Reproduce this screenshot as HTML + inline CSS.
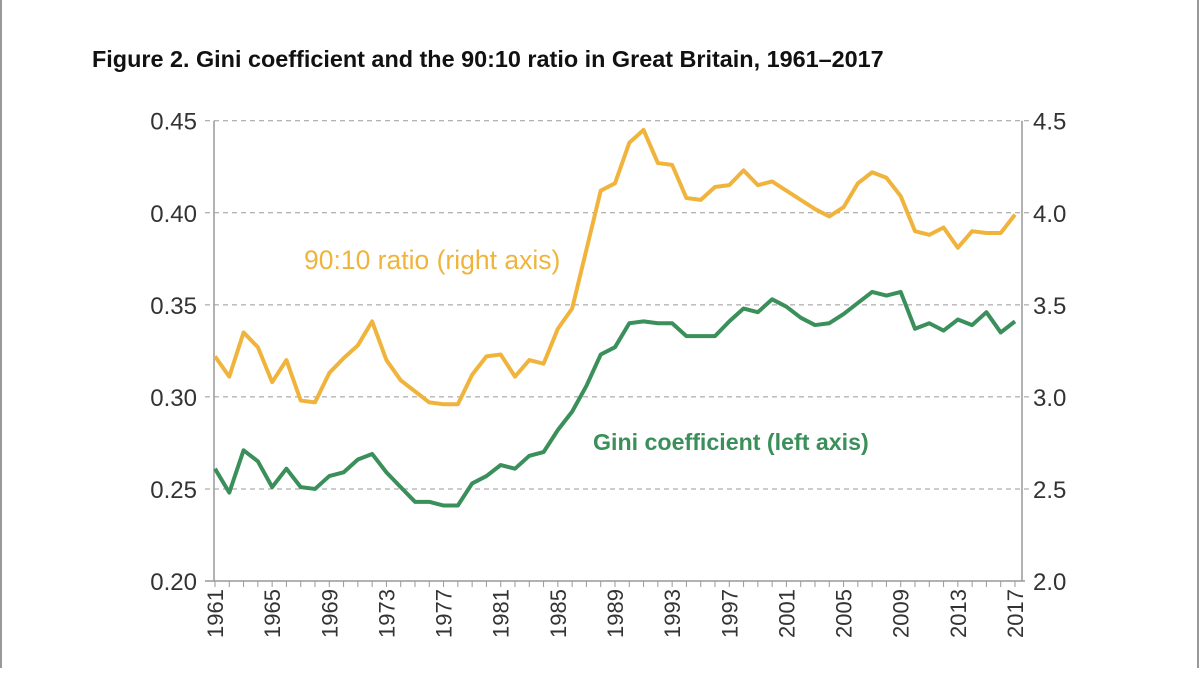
<!DOCTYPE html>
<html><head><meta charset="utf-8"><style>
body{margin:0;background:#fff;font-family:"Liberation Sans",sans-serif}
</style></head><body>
<svg width="1200" height="668" xmlns="http://www.w3.org/2000/svg" id="c" style="font-family:'Liberation Sans',sans-serif">
<line x1="1" y1="0" x2="1" y2="668" stroke="#999" stroke-width="2"/>
<line x1="1198" y1="0" x2="1198" y2="668" stroke="#999" stroke-width="2"/>
<text x="92" y="67" font-size="23.4" font-weight="bold" fill="#111">Figure 2. Gini coefficient and the 90:10 ratio in Great Britain, 1961–2017</text>
<g id="grid"></g><g id="axes"></g><g id="series"></g>
<text x="304" y="269" font-size="26.5" fill="#f0b43c">90:10 ratio (right axis)</text>
<text x="593" y="450" font-size="23.2" font-weight="bold" fill="#3a8f5a">Gini coefficient (left axis)</text>
</svg>
<script>
const years=[];for(let y=1961;y<=2017;y++)years.push(y);
const gini=[0.261,0.248,0.271,0.265,0.251,0.261,0.251,0.250,0.257,0.259,0.266,0.269,0.259,0.251,0.243,0.243,0.241,0.241,0.253,0.257,0.263,0.261,0.268,0.270,0.282,0.292,0.306,0.323,0.327,0.340,0.341,0.340,0.340,0.333,0.333,0.333,0.341,0.348,0.346,0.353,0.349,0.343,0.339,0.340,0.345,0.351,0.357,0.355,0.357,0.337,0.340,0.336,0.342,0.339,0.346,0.335,0.341];
const ratio=[3.22,3.11,3.35,3.27,3.08,3.20,2.98,2.97,3.13,3.21,3.28,3.41,3.20,3.09,3.03,2.97,2.96,2.96,3.12,3.22,3.23,3.11,3.20,3.18,3.37,3.48,3.80,4.12,4.16,4.38,4.45,4.27,4.26,4.08,4.07,4.14,4.15,4.23,4.15,4.17,4.12,4.07,4.02,3.98,4.03,4.16,4.22,4.19,4.09,3.90,3.88,3.92,3.81,3.90,3.89,3.89,3.99];
const leftTicks=["0.20","0.25","0.30","0.35","0.40","0.45"];
const rightTicks=["2.0","2.5","3.0","3.5","4.0","4.5"];
const yearLabels=[1961,1965,1969,1973,1977,1981,1985,1989,1993,1997,2001,2005,2009,2013,2017];
const X0=215,X1=1015,Y0=581,Y1=120.7;
const xs=y=>X0+(y-1961)*(X1-X0)/56;
const yl=v=>Y0-(v-0.20)*(Y0-Y1)/0.25;
const yr=v=>Y0-(v-2.0)*(Y0-Y1)/2.5;
const NS="http://www.w3.org/2000/svg";
function mk(p,t,a){const e=document.createElementNS(NS,t);for(const k in a)e.setAttribute(k,a[k]);p.appendChild(e);return e;}
const g=document.getElementById('grid'),ax=document.getElementById('axes'),s=document.getElementById('series');
leftTicks.forEach((t,i)=>{const y=yl(parseFloat(t));
 if(i>0){const l=mk(g,'line',{x1:205,x2:1030,y1:y,y2:y,stroke:'#999','stroke-dasharray':'5,4','stroke-width':1});
 
 }
 const a=mk(ax,'text',{x:197,y:y+9,'font-size':24,fill:'#333','text-anchor':'end'});a.textContent=t;
 
 
 const b=mk(ax,'text',{x:1033,y:yr(parseFloat(rightTicks[i]))+9,'font-size':24,fill:'#333'});b.textContent=rightTicks[i];
 
 
});
[[X0-1,Y1,X0-1,Y0],[1022,Y1,1022,Y0],[205,Y0,1025,Y0]].forEach(c=>{const l=mk(ax,'line',{x1:c[0],y1:c[1],x2:c[2],y2:c[3],stroke:'#999','stroke-width':1.5});
 
 });
years.forEach(y=>{const l=mk(ax,'line',{x1:xs(y),x2:xs(y),y1:Y0,y2:Y0+6,stroke:'#999','stroke-width':1});
 
 });
yearLabels.forEach(y=>{const x=xs(y)+8;const t=mk(ax,'text',{x:x,y:589,'font-size':22,fill:'#333','text-anchor':'end',transform:`rotate(-90 ${x} 589)`});t.textContent=y;
 
 });
const p1=mk(s,'polyline',{points:years.map((y,i)=>xs(y)+','+yr(ratio[i])).join(' '),fill:'none',stroke:'#f0b43c','stroke-width':4,'stroke-linejoin':'round'});


const p2=mk(s,'polyline',{points:years.map((y,i)=>xs(y)+','+yl(gini[i])).join(' '),fill:'none',stroke:'#3a8f5a','stroke-width':4,'stroke-linejoin':'round'});


</script>
</body></html>
